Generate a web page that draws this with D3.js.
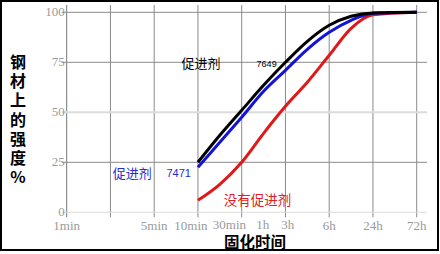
<!DOCTYPE html>
<html><head><meta charset="utf-8">
<script src="https://cdn.jsdelivr.net/npm/d3@7"></script>
<style>body{margin:0;background:#fff}svg{display:block}</style>
</head><body>
<script>
// grid positions are in "grid index" units along the time axis
const xTickLabels = ["1min","5min","10min","30min","1h","3h","6h","24h","72h"];
const xTickPos    = [0, 2, 2.84, 3.72, 4.48, 5.05, 6, 7, 8];
const xGrid       = [0,1,2,3,4,5,6,7,8];
const yTicks      = [0,25,50,75,100];
const curveX      = [3, 3.5, 4, 4.5, 5, 5.5, 6, 6.5, 7, 8];
const black7649   = [25, 38.5, 51, 63.5, 75, 85.5, 93.5, 98, 99.7, 100];
const blue7471    = [22.5, 35, 47.5, 60.5, 71, 81.5, 90, 96, 99.5, 100];
const redNone     = [6, 14, 25, 39.5, 53, 65, 78.5, 92, 98.8, 100];
const yTitle      = "钢材上的强度%";
const xTitle      = "固化时间";

const W = 440, H = 254;
const svg = d3.select("body").append("svg").attr("width", W).attr("height", H);
const x = d3.scaleLinear().domain([0, 8]).range([66.7, 416.7]);
const y = d3.scaleLinear().domain([0, 100]).range([212.3, 12.3]);

svg.append("rect").attr("x",1).attr("y",1).attr("width",437).attr("height",249)
  .attr("fill","#fff").attr("stroke","#000").attr("stroke-width",2);

// vertical grid lines
svg.selectAll(".vg").data(xGrid).join("line")
  .attr("x1", d => x(d)).attr("x2", d => x(d))
  .attr("y1", 5).attr("y2", y(0) + 5)
  .attr("stroke", d => d === 0 ? "#777" : "#8a8a8a").attr("stroke-width", 1);

// horizontal grid lines
svg.selectAll(".hg").data(yTicks).join("line")
  .attr("x1", x(0) - 5).attr("x2", 427)
  .attr("y1", d => y(d)).attr("y2", d => y(d))
  .attr("stroke", d => (d === 50 || d === 0) ? "#dcdcdc" : "#8a8a8a")
  .attr("stroke-width", d => d === 50 ? 2 : 1);

// y tick labels
svg.selectAll(".yl").data(yTicks).join("text")
  .attr("x", x(0) - 2).attr("y", d => y(d)).attr("dy", "0.25em")
  .attr("text-anchor", "end")
  .attr("font-family", "Liberation Serif, serif").attr("font-size", 13)
  .attr("fill", "#9a9a9a").text(d => d);

// x tick labels (labels clear of the axis title sit slightly lower)
const title0 = 224, title1 = 287;
svg.selectAll(".xl").data(xTickLabels).join("text")
  .attr("x", (d, i) => x(xTickPos[i]))
  .attr("y", (d, i) => (x(xTickPos[i]) > title0 - 20 && x(xTickPos[i]) < title1 + 20) ? 228.5 : 230)
  .attr("text-anchor", "middle")
  .attr("font-family", "Liberation Serif, serif").attr("font-size", 13)
  .attr("fill", "#9a9a9a").text(d => d);

// curves
const line = d3.line().x(d => x(d[0])).y(d => y(d[1])).curve(d3.curveMonotoneX);
const series = [
  {vals: redNone, color: "#e01818"},
  {vals: blue7471, color: "#1414d8"},
  {vals: black7649, color: "#000"}
];
svg.selectAll(".s").data(series).join("path")
  .attr("d", s => line(curveX.map((cx, i) => [cx, s.vals[i]])))
  .attr("fill", "none").attr("stroke", s => s.color)
  .attr("stroke-width", 3).attr("stroke-linejoin", "round");

// annotations
const cjk = "Noto Sans CJK SC, sans-serif";
const notes = [
  {t: "促进剂", xv: 3.07, yv: 74.6, c: "#000", f: cjk, s: 13},
  {t: "7649", xv: 4.57, yv: 74.3, c: "#000", f: "Liberation Sans Narrow, Liberation Sans, sans-serif", s: 9},
  {t: "促进剂", xv: 1.5, yv: 19.6, c: "#2a2ad0", f: cjk, s: 13},
  {t: "7471", xv: 2.56, yv: 19.6, c: "#2a2ad0", f: "Liberation Sans, sans-serif", s: 11},
  {t: "没有促进剂", xv: 4.36, yv: 6, c: "#e02020", f: cjk, s: 13.5}
];
svg.selectAll(".n").data(notes).join("text")
  .attr("x", d => x(d.xv)).attr("y", d => y(d.yv)).attr("dy", "0.35em")
  .attr("text-anchor", "middle").attr("font-family", d => d.f)
  .attr("font-size", d => d.s).attr("fill", d => d.c).text(d => d.t);

// y axis title (vertical, upright characters)
svg.append("text").attr("x", 18).attr("y", 54)
  .style("writing-mode", "vertical-rl").style("text-orientation", "upright")
  .style("letter-spacing", "3.2px")
  .attr("font-family", cjk).attr("font-weight", "bold").attr("font-size", 16)
  .attr("fill", "#000").text(yTitle);

// x axis title
svg.append("text").attr("x", 255).attr("y", 248)
  .attr("text-anchor", "middle").attr("font-family", cjk)
  .attr("font-weight", "bold").attr("font-size", 15.5).attr("fill", "#000").text(xTitle);
</script>
</body></html>
